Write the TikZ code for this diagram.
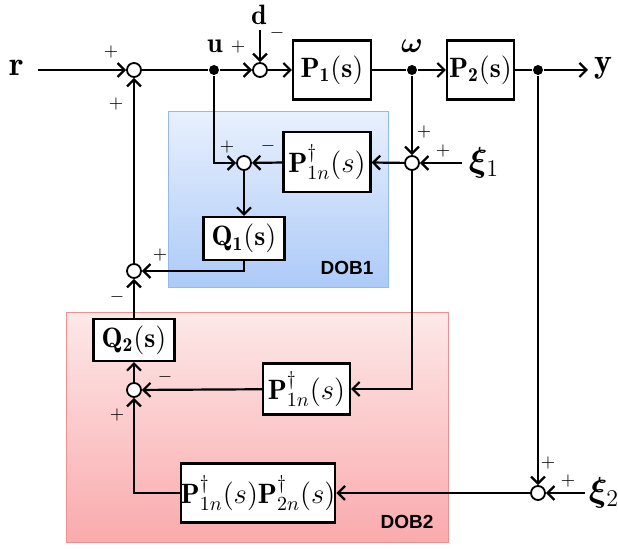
\documentclass[tikz,border=0pt]{standalone}
\usepackage{amsmath,bm}
\usepackage{fontspec}
\newfontfamily\dobfont{Liberation Sans}
\usetikzlibrary{arrows.meta}
\definecolor{dAtop}{RGB}{232,240,253}
\definecolor{dAbot}{RGB}{172,202,248}
\definecolor{dAline}{RGB}{150,185,235}
\definecolor{dBtop}{RGB}{253,232,232}
\definecolor{dBbot}{RGB}{250,170,172}
\definecolor{dBline}{RGB}{235,145,145}
\begin{document}
\begin{tikzpicture}[x=0.5pt,y=-0.5pt,
  font=\fontsize{14}{16}\selectfont,
  line width=1.1pt,
  >={Straight Barb[length=3.5pt,width=7pt,line width=1.1pt]},
  blk/.style={draw,fill=white,inner sep=0pt},
  sumc/.style={draw,circle,fill=white,minimum size=7pt,inner sep=0pt,line width=0.9pt},
  dotc/.style={circle,fill=black,minimum size=5pt,inner sep=0pt},
  sgn/.style={font=\fontsize{9}{10}\selectfont,inner sep=0pt},
  lbl/.style={inner sep=0pt},
  biglbl/.style={inner sep=0pt,font=\fontsize{17}{19}\selectfont},
  doblbl/.style={font=\dobfont\bfseries\fontsize{9.5}{11}\selectfont,inner sep=0pt}]
\useasboundingbox (0,0) rectangle (618,549);
% DOB regions
\node[draw=dAline,line width=0.5pt,top color=dAtop,bottom color=dAbot,minimum width=110pt,minimum height=88pt,inner sep=0pt] (dob1) at (279,200) {};
\node[draw=dBline,line width=0.5pt,top color=dBtop,bottom color=dBbot,minimum width=191pt,minimum height=115pt,inner sep=0pt] (dob2) at (258,428) {};
\node[doblbl] (dob1t) at (347,268) {DOB1};
\node[doblbl] (dob2t) at (407,522) {DOB2};
% main path
\node[biglbl] (r) at (17,68) {$\mathbf{r}$};
\coordinate (rin) at (38,70);
\node[sumc] (s1) at (134,70) {};
\node[dotc] (du) at (214,70) {};
\node[lbl] (ulab) at (215,46) {$\mathbf{u}$};
\node[sumc] (s2) at (260,70) {};
\node[lbl] (d) at (259,15) {$\mathbf{d}$};
\coordinate (din) at (260,30);
\node[blk,minimum width=39pt,minimum height=29.5pt] (P1) at (332,70) {$\mathbf{P_1(s)}$};
\node[dotc] (dw) at (412,70) {};
\node[lbl] (wlab) at (412,46) {$\bm{\omega}$};
\node[blk,minimum width=33.5pt,minimum height=29.5pt] (P2) at (480.5,70) {$\mathbf{P_2(s)}$};
\node[dotc] (dy) at (538,70) {};
\coordinate (yend) at (588,70);
\node[biglbl] (ylab) at (603,68) {$\mathbf{y}$};
% DOB1
\node[sumc] (sx1) at (412,163) {};
\node[biglbl] (xi1) at (484,163) {$\bm{\xi}_1$};
\coordinate (xi1in) at (462,163);
\node[blk,minimum width=43.5pt,minimum height=30pt] (Pna) at (327,162) {$\mathbf{P}^{\dagger}_{1n}(s)$};
\node[sumc] (sd1) at (244,163) {};
\node[blk,minimum width=40.5pt,minimum height=21.5pt] (Q1) at (244,238.5) {$\mathbf{Q_1(s)}$};
\node[sumc] (s3) at (134,271) {};
% DOB2
\node[blk,minimum width=40.5pt,minimum height=21pt] (Q2) at (134,340) {$\mathbf{Q_2(s)}$};
\node[sumc] (s4) at (134,390) {};
\node[blk,minimum width=43.5pt,minimum height=25.5pt] (Pnb) at (306.5,389) {$\mathbf{P}^{\dagger}_{1n}(s)$};
\node[blk,minimum width=77pt,minimum height=29.5pt] (P12) at (258,493) {$\mathbf{P}^{\dagger}_{1n}(s)\mathbf{P}^{\dagger}_{2n}(s)$};
\node[sumc] (sx2) at (538,493) {};
\node[biglbl] (xi2) at (604,493) {$\bm{\xi}_2$};
\coordinate (xi2in) at (585,493);
% connectors
\draw[->] (rin) -- (s1);
\draw (s1) -- (du);
\draw[->] (du) -- (s2);
\draw[->] (din) -- (s2);
\draw[->] (s2) -- (P1);
\draw (P1) -- (dw);
\draw[->] (dw) -- (P2);
\draw (P2) -- (dy);
\draw[->] (dy) -- (yend);
\draw[->] (dw) -- (sx1);
\draw[->] (xi1in) -- (sx1);
\draw[->] (sx1) -- (Pna);
\draw[->] (Pna) -- (sd1);
\draw[->] (du) |- (sd1);
\draw[->] (sd1) -- (Q1);
\draw[->] (Q1.south) |- (s3);
\draw[->] (s3) -- (s1);
\draw[->] (Q2) -- (s3);
\draw[->] (s4) -- (Q2);
\draw[->] (sx1) |- (Pnb);
\draw[->] (Pnb) -- (s4);
\draw[->] (dy) -- (sx2);
\draw[->] (xi2in) -- (sx2);
\draw[->] (sx2) -- (P12);
\draw[->] (P12.west) -| (s4);
% signs
\node[sgn] at (111,52) {$+$};
\node[sgn] at (116,104) {$+$};
\node[sgn] at (238,47) {$+$};
\node[sgn] at (277,33) {$-$};
\node[sgn] at (424,132) {$+$};
\node[sgn] at (443,151) {$+$};
\node[sgn] at (227,147) {$+$};
\node[sgn] at (268,146) {$-$};
\node[sgn] at (160,255) {$+$};
\node[sgn] at (117,297) {$-$};
\node[sgn] at (165,377) {$-$};
\node[sgn] at (117,415) {$+$};
\node[sgn] at (548,463) {$+$};
\node[sgn] at (568,481) {$+$};
\end{tikzpicture}
\end{document}
